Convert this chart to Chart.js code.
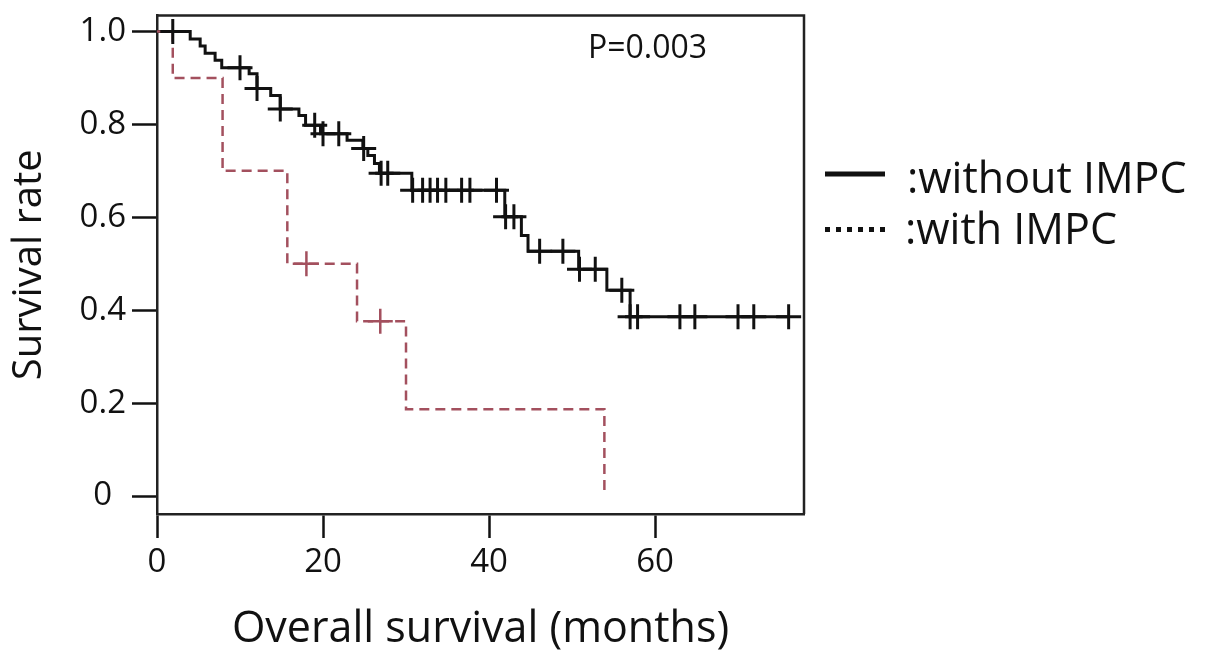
<!DOCTYPE html>
<html>
<head>
<meta charset="utf-8">
<script src="https://cdn.jsdelivr.net/npm/chart.js@4"></script>
<style>
  body { margin: 0; background: #fff; }
  #wrap { width: 1205px; height: 666px; position: relative; }
</style>
</head>
<body>
<div id="wrap"><canvas id="kmChart"></canvas></div>
<script>
// step points: time (months) where the curve drops, and the new survival level
const noImpcTimes = [0, 4.0, 5.2, 5.8, 7.0, 7.8, 11.1, 12.05, 13.7, 14.85, 17.1, 17.9, 19.7, 22.9, 24.8, 25.4, 26.2, 26.8, 30.7, 41.9, 43.9, 44.7, 50.8, 54.2, 57.0, 76.1];
const noImpcSurv = [1.0, 0.984, 0.969, 0.953, 0.938, 0.922, 0.909, 0.877, 0.862, 0.833, 0.819, 0.798, 0.780, 0.766, 0.748, 0.733, 0.716, 0.695, 0.658, 0.601, 0.561, 0.527, 0.488, 0.443, 0.386, 0.386];
const noImpcCensored = [1.9, 10.0, 12.05, 14.85, 19.0, 20.0, 21.9, 24.9, 27.0, 27.8, 30.8, 32.0, 32.9, 33.8, 34.8, 36.7, 37.7, 40.9, 42.0, 43.0, 46.1, 48.9, 50.9, 52.8, 56.0, 57.0, 57.9, 63.0, 64.8, 70.0, 71.9, 76.1];

const impcTimes = [0, 1.9, 7.9, 15.7, 24.1, 30.0, 53.9];
const impcSurv = [1.0, 0.9, 0.7, 0.5, 0.376, 0.187, 0];
const impcCensored = [18.0, 26.9];

const xTicks = [0, 20, 40, 60];
const yTicks = [0, 0.2, 0.4, 0.6, 0.8, 1.0];

const black = "#111111";
const red = "#a3505e";

function levelAt(times, surv, t) {
  let v = surv[0];
  for (let i = 0; i < times.length; i++) {
    if (times[i] <= t) v = surv[i];
  }
  return v;
}

let blackLine = noImpcTimes.map((t, i) => ({ x: t, y: noImpcSurv[i] }));
let redLine = impcTimes.map((t, i) => ({ x: t, y: impcSurv[i] }));
let blackMarks = noImpcCensored.map((t) => ({ x: t, y: levelAt(noImpcTimes, noImpcSurv, t) }));
let redMarks = impcCensored.map((t) => ({ x: t, y: levelAt(impcTimes, impcSurv, t) }));

// frame (top/right), p value and the legend on the right
const extras = {
  id: "extras",
  afterDraw(chart) {
    const ctx = chart.ctx;
    const a = chart.chartArea;
    ctx.save();
    ctx.strokeStyle = "#222";
    ctx.lineWidth = 2.5;
    ctx.beginPath();
    ctx.moveTo(a.left, a.top);
    ctx.lineTo(a.right, a.top);
    ctx.lineTo(a.right, a.bottom);
    ctx.stroke();

    ctx.fillStyle = "#111";
    ctx.textBaseline = "alphabetic";
    ctx.textAlign = "left";
    ctx.font = "32px 'Open Sans'";
    ctx.fillText("P=0.003", 588, 58);

    ctx.font = "43px 'Open Sans'";
    ctx.fillText(":without IMPC", 907, 193);
    ctx.fillText(":with IMPC", 905, 244);

    ctx.strokeStyle = "#111";
    ctx.lineWidth = 5;
    ctx.beginPath();
    ctx.moveTo(825, 174);
    ctx.lineTo(885, 174);
    ctx.stroke();
    for (let i = 0; i < 6; i++) {
      ctx.fillRect(825 + i * 11, 227, 5, 5);
    }
    ctx.restore();
  },
};

let ctx = document.getElementById("kmChart").getContext("2d");
let kmChart = new Chart(ctx, {
  type: "line",
  data: {
    datasets: [
      {
        label: "without IMPC censored",
        data: blackMarks,
        showLine: false,
        pointStyle: "cross",
        pointRadius: 12.5,
        pointBorderColor: black,
        pointBorderWidth: 3,
      },
      {
        label: "with IMPC",
        data: redLine,
        stepped: true,
        borderColor: red,
        borderWidth: 2.5,
        borderDash: [10, 6],
        pointRadius: 0,
      },
      {
        label: "with IMPC censored",
        data: redMarks,
        showLine: false,
        pointStyle: "cross",
        pointRadius: 12.5,
        pointBorderColor: red,
        pointBorderWidth: 2.5,
      },
      {
        label: "without IMPC",
        data: blackLine,
        stepped: true,
        borderColor: black,
        borderWidth: 3,
        pointRadius: 0,
      },
    ],
  },
  options: {
    responsive: true,
    maintainAspectRatio: false,
    animation: false,
    layout: { padding: { left: 0, top: 15, right: 401, bottom: 0 } },
    plugins: { legend: { display: false }, tooltip: { enabled: false } },
    scales: {
      x: {
        type: "linear",
        min: 0,
        max: 77.95,
        afterBuildTicks: (scale) => {
          scale.ticks = xTicks.map((v) => ({ value: v }));
        },
        afterFit: (scale) => {
          scale.height = 152;
        },
        grid: {
          drawOnChartArea: false,
          tickLength: 24,
          tickWidth: 2.5,
          tickColor: black,
        },
        border: { color: "#222", width: 2.5 },
        ticks: {
          color: black,
          padding: 5,
          maxRotation: 0,
          font: { family: "'Open Sans'", size: 33 },
        },
        title: {
          display: true,
          text: "Overall survival (months)",
          color: black,
          font: { family: "'Open Sans'", size: 43 },
          padding: { top: 0, bottom: 10 },
        },
      },
      y: {
        min: -0.0387,
        max: 1.0344,
        afterBuildTicks: (scale) => {
          scale.ticks = yTicks.map((v) => ({ value: v }));
        },
        afterFit: (scale) => {
          scale.width = 157;
        },
        grid: {
          drawOnChartArea: false,
          tickLength: 25,
          tickWidth: 2.5,
          tickColor: black,
        },
        border: { color: "#222", width: 2.5 },
        ticks: {
          color: black,
          padding: 6,
          crossAlign: "center",
          font: { family: "'Open Sans'", size: 33, lineHeight: 0.3 },
          callback: (v) => (v === 0 ? "0" : v.toFixed(1)),
        },
        title: {
          display: true,
          text: "Survival rate",
          color: black,
          font: { family: "'Open Sans'", size: 40 },
          padding: { top: 6, bottom: 0 },
        },
      },
    },
  },
  plugins: [extras],
});
</script>
</body>
</html>
